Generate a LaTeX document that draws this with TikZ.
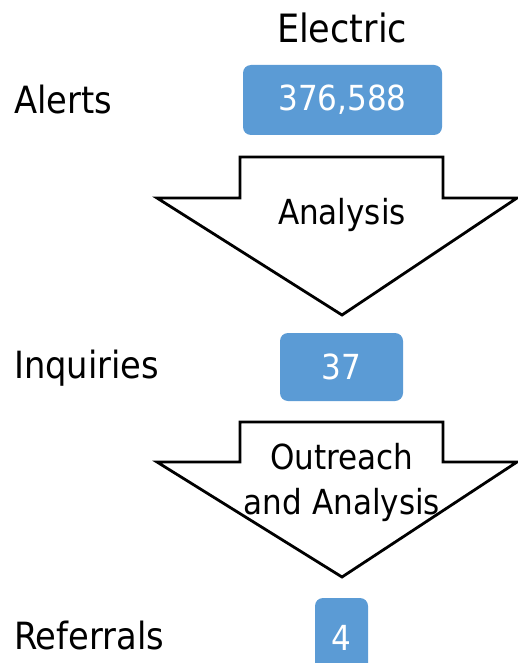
\documentclass[tikz,border=0pt]{standalone}
\usepackage{fontspec}
\setmainfont{DejaVu Sans Condensed}
\definecolor{boxblue}{HTML}{5B9BD5}
\begin{document}
\begin{tikzpicture}[x=1pt,y=-1pt,
  lbl/.style={font=\fontsize{37.5}{42}\selectfont, anchor=west, inner sep=0},
  numbox/.style={fill=boxblue, rounded corners=8pt, text=white, font=\fontsize{34.5}{40}\selectfont, inner sep=0},
  flow/.style={draw=black, line width=2.8pt, fill=white, line join=miter},
  flowtxt/.style={font=\fontsize{34.5}{45}\selectfont, align=center, inner sep=0}]
\useasboundingbox (0,0) rectangle (518,663);
\clip (0,0) rectangle (518,663);
% header
\node[font=\fontsize{39}{44}\selectfont, inner sep=0] (hdr) at (342,28) {Electric};
% row labels
\node[lbl] (alerts) at (14,100) {Alerts};
\node[lbl] (inq) at (14,368) {Inquiries};
\node[lbl] (ref) at (14,636) {Referrals};
% boxes
\node[numbox, minimum width=199pt, minimum height=70pt] (b1) at (342.5,100) {376,588};
\node[numbox, minimum width=123pt, minimum height=68pt] (b2) at (341.5,367) {37};
\node[numbox, minimum width=53pt, minimum height=80pt] (b3) at (341.5,638) {4};
% arrow 1
\draw[flow] (240,157) -- (443,157) -- (443,198) -- (517,198) -- (342,315) -- (157,198) -- (240,198) -- cycle;
\node[flowtxt] (a1) at (342,215) {Analysis};
% arrow 2
\draw[flow] (240,422) -- (443,422) -- (443,462) -- (517,462) -- (342,577) -- (157,462) -- (240,462) -- cycle;
\node[flowtxt] (a2) at (342,482) {Outreach\\and Analysis};
\end{tikzpicture}
\end{document}
